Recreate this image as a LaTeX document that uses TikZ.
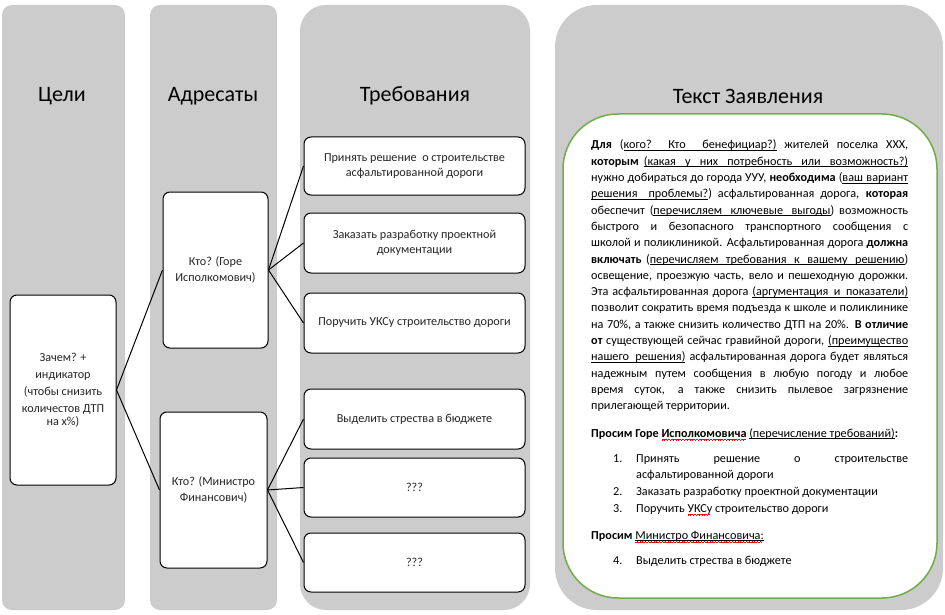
\documentclass[tikz,border=0pt]{standalone}
\usepackage{fontspec}
\setmainfont{Carlito}
\definecolor{colgray}{HTML}{CCCCCC}
\definecolor{pgreen}{HTML}{70AD47}
\newsavebox\wbox
\newcommand\uw[1]{\sbox\wbox{#1}\rlap{\rule[-1.7pt]{\wd\wbox}{0.5pt}}\usebox\wbox}
\newcommand\usp{\leaders\hrule height -1.2pt depth 1.7pt\hskip 0.226em plus 0.3em minus 0.05em\relax}
\makeatletter
\def\ulph#1{\ulphA#1 \@nil}
\def\ulphA#1 #2\@nil{\uw{#1}\ifx\relax#2\relax\else\usp\ulphA#2\@nil\fi}
\makeatother
\newcommand\wavepat[1]{\hbox{\rule[#1]{0.7pt}{0.6pt}\raise0.5pt\hbox{\rule[#1]{0.7pt}{0.6pt}}\raise1pt\hbox{\rule[#1]{0.7pt}{0.6pt}}\raise0.5pt\hbox{\rule[#1]{0.7pt}{0.6pt}}}}
\newcommand\rwave[1]{\sbox\wbox{#1}\rlap{\color{red}\hbox to\wd\wbox{\leaders\wavepat{-3.4pt}\hfil}}\usebox\wbox}
\newcommand\urwave[1]{\sbox\wbox{#1}\rlap{\rule[-1.7pt]{\wd\wbox}{0.5pt}}\rlap{\color{red}\hbox to\wd\wbox{\leaders\wavepat{-3.9pt}\hfil}}\usebox\wbox}
\newcommand\jl[1]{\noindent\makebox[\linewidth][s]{#1}\par}
\newcommand\lastl[1]{\noindent\makebox[\linewidth][l]{#1}\par}
\tikzset{
  box/.style={draw=black, line width=1pt, fill=white, rounded corners=7, align=center,
    inner sep=2pt, text=black!85, font=\fontsize{12.2}{14.5}\selectfont},
  head/.style={font=\fontsize{22}{26}\selectfont, text=black, inner sep=0},
  ptxt/.style={anchor=base west, inner sep=0, text=black, font=\fontsize{12.2}{16.3}\selectfont},
  conn/.style={draw=black, line width=1pt}
}
\begin{document}
\begin{tikzpicture}[x=1pt,y=-1pt]
\useasboundingbox (0,0) rectangle (945,615);
% columns
\fill[colgray, rounded corners=10] (2,5) rectangle (125,610);
\fill[colgray, rounded corners=10] (150,5) rectangle (277,610);
\fill[colgray, rounded corners=26] (300,5) rectangle (530,610);
\fill[colgray, rounded corners=42] (555,5) rectangle (943,610);
% headers
\node[head] (h1) at (62,96) {Цели};
\node[head] (h2) at (213,96) {Адресаты};
\node[head] (h3) at (415,96) {Требования};
\node[head] (h4) at (748,96) {Текст Заявления};
% goal
\node[box, minimum width=106pt, minimum height=190pt, font=\fontsize{12.2}{17}\selectfont] (goal) at (63,390)
  {Зачем? +\\индикатор\\(чтобы снизить\\количестов ДТП\\[-4pt]на х\%)};
% addressees
\node[box, minimum width=105pt, minimum height=156pt, font=\fontsize{12.2}{15.5}\selectfont] (gore) at (215.5,270)
  {Кто? (Горе\\Исполкомович)};
\node[box, minimum width=107pt, minimum height=156pt, font=\fontsize{12.2}{16}\selectfont] (mf) at (213.5,490)
  {Кто? (Министро\\Финансович)};
% requirements
\node[box, minimum width=221pt, minimum height=58pt] (r1) at (414.5,166)
  {Принять решение \ о строительстве\\асфальтированной дороги};
\node[box, minimum width=221pt, minimum height=60pt] (r2) at (414.5,243)
  {Заказать разработку проектной\\документации};
\node[box, minimum width=221pt, minimum height=60pt] (r3) at (414.5,323)
  {Поручить УКСу строительство дороги};
\node[box, minimum width=221pt, minimum height=60pt] (r4) at (414.5,419)
  {Выделить стрества в бюджете};
\node[box, minimum width=221pt, minimum height=59pt] (r5) at (414.5,487.5)
  {???};
\node[box, minimum width=221pt, minimum height=59pt] (r6) at (414.5,562.5)
  {???};
% connectors
\draw[conn] (goal.east) -- (gore.west);
\draw[conn] (goal.east) -- (mf.west);
\draw[conn] (gore.east) -- (r1.west);
\draw[conn] (gore.east) -- (r2.west);
\draw[conn] (gore.east) -- (r3.west);
\draw[conn] (mf.east) -- (r4.west);
\draw[conn] (mf.east) -- (r5.west);
\draw[conn] (mf.east) -- (r6.west);
% text panel
\node[draw=pgreen, line width=1.5pt, fill=white, rounded corners=55, minimum width=374pt, minimum height=484pt, inner sep=0] (panel) at (750,356) {};
\node[ptxt] (para) at (591,149) {\parbox[t]{317pt}{\fontsize{12.2}{16.3}\selectfont
\jl{\textbf{Для} (\ulph{кого? Кто бенефициар?)} жителей поселка ХХХ,}
\jl{\textbf{которым} \ulph{(какая у них потребность или возможность?)}}
\jl{нужно добираться до города УУУ, \textbf{необходима} (\ulph{ваш вариант}}
\jl{\ulph{решения проблемы?}) асфальтированная дорога, \textbf{которая}}
\jl{обеспечит (\ulph{перечисляем ключевые выгоды}) возможность}
\jl{быстрого и безопасного транспортного сообщения с}
\jl{школой и поликлиникой. Асфальтированная дорога \textbf{должна}}
\jl{\textbf{включать} (\ulph{перечисляем требования к вашему решению})}
\jl{освещение, проезжую часть, вело и пешеходную дорожки.}
\jl{Эта асфальтированная дорога \ulph{(аргументация и показатели)}}
\jl{позволит сократить время подъезда к школе и поликлинике}
\jl{на 70\%, а также снизить количество ДТП на 20\%. \textbf{В отличие}}
\jl{\textbf{от} существующей сейчас гравийной дороги, \ulph{(преимущество}}
\jl{\ulph{нашего решения)} асфальтированная дорога будет являться}
\jl{надежным путем сообщения в любую погоду и любое}
\jl{время суток, а также снизить пылевое загрязнение}
\lastl{прилегающей территории.}}};
\node[ptxt] (ask1) at (591,437) {\textbf{Просим Горе \rwave{Исполкомовича}} \ulph{(перечисление требований)}\textbf{:}};
\node[ptxt] (n1) at (613,462) {1.};
\node[ptxt] (i1a) at (636,462) {\makebox[272pt][s]{Принять решение о строительстве}};
\node[ptxt] (i1b) at (636,478) {асфальтированной дороги};
\node[ptxt] (n2) at (613,495) {2.};
\node[ptxt] (i2) at (636,495) {Заказать разработку проектной документации};
\node[ptxt] (n3) at (613,512) {3.};
\node[ptxt] (i3) at (636,512) {Поручить \rwave{УКСу} строительство дороги};
\node[ptxt] (ask2) at (591,539) {\textbf{Просим} \urwave{Министро Финансовича:}};
\node[ptxt] (n4) at (613,564) {4.};
\node[ptxt] (i4) at (636,564) {Выделить стрества в бюджете};
\end{tikzpicture}
\end{document}
